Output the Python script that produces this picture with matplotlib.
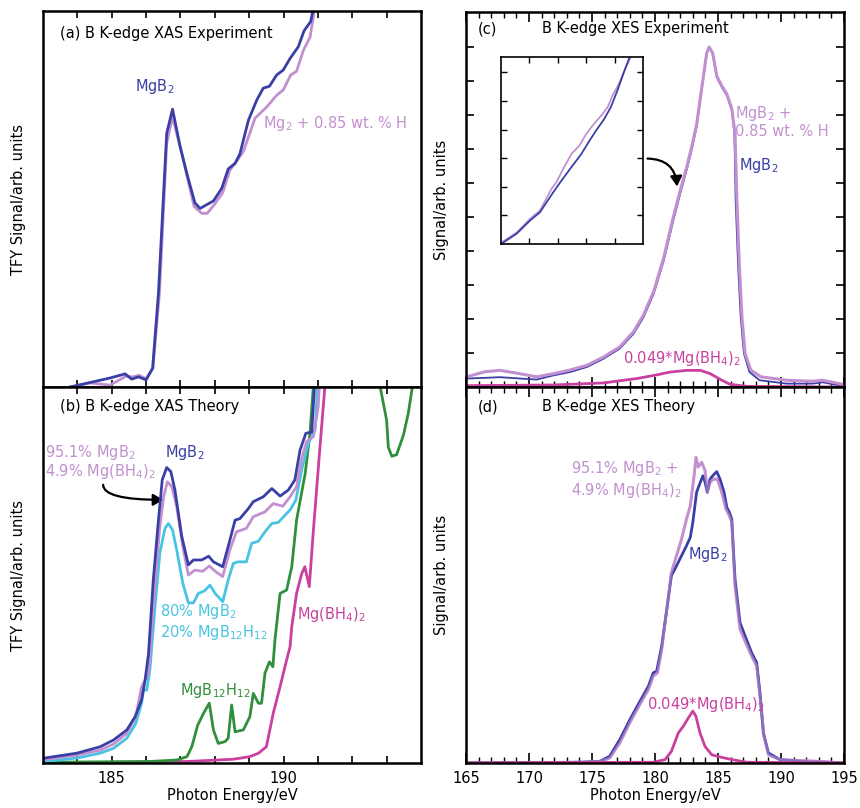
import numpy as np
import matplotlib
matplotlib.use("Agg")
import matplotlib.pyplot as plt
from matplotlib.patches import FancyArrowPatch

# colores de las curvas
C_BLUE = "#3a3fa6"
C_LILAC = "#c290d0"
C_CYAN = "#48c4e2"
C_GREEN = "#2f8f3c"
C_MAGENTA = "#c9409f"

# ---------------- (a) XAS experimento ----------------
xas_exp_e_mgb2 = [183.79, 184.95, 185.39, 185.58, 185.78, 186.0, 186.19, 186.36, 186.6, 186.77,
                  186.99, 187.21, 187.42, 187.57, 187.96, 188.2, 188.39, 188.59, 188.73, 188.98,
                  189.22, 189.41, 189.59, 189.8, 189.99, 190.19, 190.43, 190.6, 190.79, 190.92]
xas_exp_mgb2 = [0.0, 0.024, 0.035, 0.021, 0.027, 0.019, 0.05, 0.25, 0.675, 0.739,
                0.64, 0.56, 0.49, 0.475, 0.495, 0.528, 0.58, 0.595, 0.62, 0.71,
                0.763, 0.795, 0.80, 0.83, 0.843, 0.874, 0.905, 0.948, 0.972, 1.03]
xas_exp_e_mgb2h = [183.79, 184.37, 184.95, 185.42, 185.6, 185.8, 186.0, 186.2, 186.39, 186.6,
                   186.77, 187.04, 187.4, 187.62, 187.78, 188.0, 188.23, 188.44, 188.63, 188.83,
                   189.17, 189.51, 189.8, 189.99, 190.21, 190.38, 190.58, 190.77, 190.95]
xas_exp_mgb2h = [0.0, 0.011, 0.005, 0.029, 0.027, 0.031, 0.022, 0.05, 0.25, 0.648,
                 0.719, 0.62, 0.48, 0.462, 0.462, 0.487, 0.517, 0.577, 0.60, 0.626,
                 0.715, 0.745, 0.776, 0.79, 0.83, 0.84, 0.896, 0.93, 1.03]

# ---------------- (b) XAS teoria ----------------
xas_th_e_mgb2 = [183.0, 183.98, 184.66, 185.05, 185.44, 185.68, 185.87, 185.97, 186.07, 186.21,
                 186.36, 186.47, 186.6, 186.72, 186.84, 187.04, 187.23, 187.38, 187.62, 187.82,
                 187.96, 188.23, 188.44, 188.59, 188.73, 188.98, 189.12, 189.41, 189.66, 189.9,
                 190.14, 190.33, 190.48, 190.65, 190.82, 190.92]
xas_th_mgb2 = [0.0125, 0.026, 0.043, 0.061, 0.088, 0.123, 0.168, 0.22, 0.29, 0.487,
               0.646, 0.753, 0.786, 0.775, 0.726, 0.602, 0.527, 0.54, 0.54, 0.55,
               0.535, 0.522, 0.593, 0.646, 0.65, 0.677, 0.695, 0.708, 0.73, 0.71,
               0.726, 0.753, 0.832, 0.877, 0.88, 1.03]
xas_th_e_mix = [183.0, 183.98, 184.66, 185.05, 185.44, 185.7, 185.87, 185.97, 186.07, 186.23,
                186.39, 186.51, 186.62, 186.75, 186.89, 187.07, 187.23, 187.42, 187.65, 187.84,
                188.01, 188.23, 188.44, 188.63, 188.92, 189.12, 189.46, 189.7, 189.98, 190.19,
                190.38, 190.53, 190.67, 190.87, 191.01, 191.06]
xas_th_mix = [0.008, 0.021, 0.034, 0.05, 0.079, 0.123, 0.203, 0.22, 0.238, 0.442,
              0.62, 0.708, 0.748, 0.735, 0.682, 0.575, 0.50, 0.513, 0.51, 0.524,
              0.51, 0.496, 0.567, 0.615, 0.624, 0.655, 0.668, 0.69, 0.683, 0.708,
              0.735, 0.81, 0.855, 0.868, 0.948, 1.03]
xas_th_e_mix20 = [183.0, 183.98, 184.66, 185.05, 185.44, 185.7, 185.87, 185.92, 186.02, 186.11,
                  186.26, 186.4, 186.55, 186.65, 186.77, 186.89, 187.07, 187.23, 187.38, 187.52,
                  187.7, 187.86, 188.01, 188.23, 188.39, 188.54, 188.68, 188.92, 189.07, 189.27,
                  189.46, 189.66, 189.85, 189.95, 190.19, 190.36, 190.53, 190.72, 190.92, 191.0]
xas_th_mix20 = [0.004, 0.013, 0.026, 0.039, 0.066, 0.105, 0.159, 0.194, 0.194, 0.247,
                0.416, 0.558, 0.624, 0.637, 0.62, 0.567, 0.478, 0.426, 0.426, 0.451,
                0.458, 0.473, 0.451, 0.429, 0.487, 0.531, 0.535, 0.535, 0.584, 0.59,
                0.615, 0.637, 0.64, 0.65, 0.673, 0.70, 0.78, 0.85, 0.886, 1.03]
xas_th_e_b12 = [183.0, 186.1, 186.9, 187.19, 187.33, 187.5, 187.67, 187.84, 187.96, 188.1,
                188.3, 188.39, 188.49, 188.59, 188.83, 189.02, 189.12, 189.27, 189.36, 189.46,
                189.59, 189.69, 189.75, 189.9, 190.09, 190.24, 190.38, 190.63, 190.77, 190.89,
                np.nan, 192.75, 193.0, 193.05, 193.15, 193.29, 193.49, 193.63, 193.8]
xas_th_b12 = [0.002, 0.004, 0.008, 0.017, 0.043, 0.10, 0.132, 0.159, 0.088, 0.052,
              0.057, 0.066, 0.154, 0.083, 0.088, 0.123, 0.185, 0.159, 0.159, 0.239,
              0.269, 0.256, 0.327, 0.451, 0.46, 0.522, 0.646, 0.77, 0.877, 1.03,
              np.nan, 1.03, 0.912, 0.84, 0.816, 0.82, 0.872, 0.93, 1.03]
xas_th_e_bh4 = [183.0, 187.2, 188.54, 189.02, 189.27, 189.5, 189.7, 189.9, 190.09, 190.19,
                190.24, 190.38, 190.53, 190.62, 190.75, 190.87, 191.06, 191.23]
xas_th_bh4 = [0.0, 0.004, 0.01, 0.017, 0.026, 0.043, 0.132, 0.203, 0.274, 0.309,
              0.363, 0.451, 0.504, 0.522, 0.469, 0.62, 0.84, 1.03]

# ---------------- (c) XES experimento ----------------
xes_exp_e_mgb2 = [165.05, 166.5, 167.7, 169.3, 170.6, 171.9, 173.25, 174.6, 175.9, 177.2,
                  178.3, 179.1, 179.9, 180.7, 181.45, 182.0, 182.5, 182.9, 183.3, 183.7,
                  184.1, 184.3, 184.58, 184.9, 185.3, 185.7, 186.1, 186.3, 186.4, 186.6,
                  186.8, 187.06, 187.5, 188.3, 190.45, 192.5, 193.3, 194.9]
xes_exp_mgb2 = [0.025, 0.027, 0.029, 0.025, 0.022, 0.034, 0.044, 0.059, 0.083, 0.113,
                0.157, 0.206, 0.275, 0.373, 0.49, 0.569, 0.637, 0.696, 0.765, 0.873,
                0.98, 1.0, 0.98, 0.912, 0.882, 0.858, 0.814, 0.745, 0.549, 0.353,
                0.206, 0.098, 0.044, 0.02, 0.01, 0.01, 0.014, 0.003]
xes_exp_e_mgb2h = [165.05, 166.5, 167.7, 169.3, 170.6, 171.9, 173.25, 174.6, 175.9, 177.2,
                   178.3, 179.1, 179.9, 180.7, 181.45, 182.0, 182.5, 182.9, 183.3, 183.7,
                   184.1, 184.3, 184.58, 184.9, 185.3, 185.7, 186.1, 186.35, 186.5, 186.7,
                   186.9, 187.15, 187.6, 188.4, 190.45, 192.5, 193.3, 194.9]
xes_exp_mgb2h = [0.03, 0.045, 0.049, 0.039, 0.03, 0.039, 0.05, 0.064, 0.088, 0.118,
                 0.163, 0.213, 0.282, 0.382, 0.50, 0.578, 0.645, 0.705, 0.772, 0.878,
                 0.982, 1.0, 0.982, 0.915, 0.886, 0.862, 0.818, 0.745, 0.549, 0.353,
                 0.206, 0.098, 0.05, 0.03, 0.02, 0.017, 0.02, 0.008]
xes_exp_e_bh4 = [165.0, 171.9, 175.9, 178.55, 179.9, 181.2, 182.5, 183.6, 184.4, 185.2,
                 185.95, 187.3, 195.0]
xes_exp_bh4 = [0.004, 0.006, 0.012, 0.025, 0.034, 0.044, 0.049, 0.049, 0.039, 0.022,
               0.008, 0.002, 0.0]

# recuadro (unidades propias del recuadro)
inset_x_mgb2h = [0.03, 0.56, 1.02, 1.37, 1.78, 1.95, 2.19, 2.48, 2.77, 3.0,
                 3.23, 3.58, 3.76, 3.93, 4.16, 4.4, 4.57]
inset_mgb2h = [0.06, 0.41, 0.88, 1.17, 1.93, 2.16, 2.63, 3.15, 3.45, 3.85,
               4.15, 4.55, 4.79, 5.2, 5.61, 6.19, 6.54]
inset_x_mgb2 = [0.03, 0.56, 1.02, 1.37, 1.84, 2.13, 2.48, 2.83, 3.12, 3.35,
                3.64, 3.87, 4.1, 4.33, 4.51]
inset_mgb2 = [0.02, 0.37, 0.82, 1.11, 1.81, 2.22, 2.69, 3.15, 3.62, 3.97,
              4.38, 4.79, 5.37, 6.01, 6.48]

# ---------------- (d) XES teoria ----------------
xes_th_e_mgb2 = [165.0, 174.05, 175.6, 176.4, 177.2, 178.0, 178.8, 179.47, 179.86, 180.13,
                 180.53, 180.9, 181.3, 181.7, 182.1, 182.5, 182.8, 183.0, 183.3, 183.6,
                 183.8, 183.97, 184.15, 184.37, 184.58, 184.9, 185.16, 185.48, 185.7, 185.9,
                 186.09, 186.35, 186.75, 187.15, 187.67, 188.07, 188.33, 188.6, 189.0, 189.9,
                 191.8, 195.0]
xes_th_mgb2 = [0.0, 0.002, 0.004, 0.018, 0.062, 0.115, 0.164, 0.204, 0.24, 0.244,
               0.311, 0.40, 0.498, 0.524, 0.551, 0.578, 0.60, 0.64, 0.72, 0.747,
               0.764, 0.747, 0.72, 0.755, 0.764, 0.775, 0.755, 0.72, 0.68, 0.667,
               0.649, 0.489, 0.373, 0.338, 0.293, 0.267, 0.187, 0.08, 0.027, 0.009,
               0.004, 0.0]
xes_th_e_mix = [165.0, 174.05, 175.6, 176.4, 177.2, 178.0, 178.8, 179.47, 179.86, 180.2,
                180.53, 180.9, 181.3, 181.7, 182.1, 182.5, 182.8, 183.1, 183.25, 183.43,
                183.7, 183.97, 184.15, 184.37, 184.63, 184.95, 185.3, 185.63, 185.9, 186.09,
                186.35, 186.75, 187.15, 187.67, 188.07, 188.33, 188.65, 189.0, 189.9, 193.2,
                195.0]
xes_th_mix = [0.0, 0.002, 0.004, 0.013, 0.053, 0.107, 0.156, 0.195, 0.231, 0.24,
              0.302, 0.40, 0.507, 0.551, 0.595, 0.649, 0.684, 0.764, 0.813, 0.787,
              0.80, 0.778, 0.72, 0.747, 0.755, 0.755, 0.72, 0.675, 0.658, 0.64,
              0.471, 0.355, 0.324, 0.284, 0.258, 0.178, 0.071, 0.022, 0.009, 0.004,
              0.0]
xes_th_e_bh4 = [165.0, 179.86, 180.8, 181.3, 181.85, 182.25, 182.65, 183.0, 183.25, 183.57,
                183.97, 184.5, 185.16, 186.1, 187.3, 195.0]
xes_th_bh4 = [0.0, 0.002, 0.009, 0.031, 0.08, 0.098, 0.12, 0.138, 0.124, 0.08,
              0.044, 0.022, 0.016, 0.009, 0.002, 0.0]

FS = 10.5
plt.rcParams["font.family"] = ["DejaVu Sans"]
plt.rcParams["font.size"] = FS

fig = plt.figure(figsize=(8.6, 8.08), dpi=100)
ax_a = fig.add_axes([0.05, 0.521, 0.4395, 0.4653])
ax_b = fig.add_axes([0.05, 0.0557, 0.4395, 0.4653])
ax_c = fig.add_axes([0.5419, 0.521, 0.4395, 0.4641])
ax_d = fig.add_axes([0.5419, 0.0557, 0.4395, 0.4653])

for ax in (ax_a, ax_b, ax_c, ax_d):
    for sp in ax.spines.values():
        sp.set_linewidth(1.8)

# ejes izquierdos
for ax in (ax_a, ax_b):
    ax.set_xlim(183, 194)
    ax.set_ylim(0, 1.0)
    ax.set_xticks(range(184, 194))
    ax.set_yticks([])
    ax.tick_params(axis="x", direction="in", top=True, bottom=True, length=5, width=1.2,
                   pad=6, labelsize=FS)
    ax.set_ylabel("TFY Signal/arb. units", fontsize=FS)
    ax.yaxis.set_label_coords(-0.045, 0.5)
ax_a.set_xticklabels([])
ax_b.set_xticklabels(["185" if t == 185 else ("190" if t == 190 else "") for t in range(184, 194)])
ax_b.set_xlabel("Photon Energy/eV", fontsize=FS)
ax_b.xaxis.set_label_coords(0.5, -0.066)

# ejes derechos
for ax in (ax_c, ax_d):
    ax.set_xlim(165, 195)
    ax.set_xticks(range(165, 196, 5))
    ax.set_xticks(range(165, 196), minor=True)
    ax.tick_params(axis="x", which="major", direction="in", top=True, bottom=True, length=7,
                   width=1.2, pad=6, labelsize=FS)
    ax.tick_params(axis="x", which="minor", direction="in", top=True, bottom=True, length=4, width=1.0)
    ax.set_ylabel("Signal/arb. units", fontsize=FS)
    ax.yaxis.set_label_coords(-0.045, 0.5)
ax_c.set_ylim(0, 1.103)
ax_c.set_yticks(np.arange(0.1, 1.05, 0.1))
ax_c.tick_params(axis="y", direction="in", left=True, right=True, length=6, width=1.2, labelleft=False)
ax_c.set_xticklabels([])
ax_d.set_ylim(0, 1.0)
ax_d.set_yticks([])
ax_d.set_xlabel("Photon Energy/eV", fontsize=FS)
ax_d.xaxis.set_label_coords(0.5, -0.066)

# (a)
ax_a.plot(xas_exp_e_mgb2h, xas_exp_mgb2h, color=C_LILAC, lw=2.0)
ax_a.plot(xas_exp_e_mgb2, xas_exp_mgb2, color=C_BLUE, lw=2.0)
ax_a.text(0.045, 0.94, "(a) B K-edge XAS Experiment", transform=ax_a.transAxes, va="center")
ax_a.text(186.26, 0.80, "MgB$_2$", color=C_BLUE, ha="center", va="center")
ax_a.text(189.4, 0.70, "Mg$_2$ + 0.85 wt. % H", color=C_LILAC, va="center")

# (b)
ax_b.plot(xas_th_e_bh4, xas_th_bh4, color=C_MAGENTA, lw=2.0)
ax_b.plot(xas_th_e_b12, xas_th_b12, color=C_GREEN, lw=2.0)
ax_b.plot(xas_th_e_mix20, xas_th_mix20, color=C_CYAN, lw=2.0)
ax_b.plot(xas_th_e_mix, xas_th_mix, color=C_LILAC, lw=2.0)
ax_b.plot(xas_th_e_mgb2, xas_th_mgb2, color=C_BLUE, lw=2.0)
ax_b.text(0.045, 0.947, "(b) B K-edge XAS Theory", transform=ax_b.transAxes, va="center")
ax_b.text(183.06, 0.827, "95.1% MgB$_2$", color=C_LILAC, va="center")
ax_b.text(183.06, 0.775, "4.9% Mg(BH$_4$)$_2$", color=C_LILAC, va="center")
ax_b.text(187.13, 0.827, "MgB$_2$", color=C_BLUE, ha="center", va="center")
ax_b.text(186.4, 0.402, "80% MgB$_2$", color=C_CYAN, va="center")
ax_b.text(186.4, 0.348, "20% MgB$_{12}$H$_{12}$", color=C_CYAN, va="center")
ax_b.text(186.99, 0.194, "MgB$_{12}$H$_{12}$", color=C_GREEN, va="center")
ax_b.text(190.39, 0.396, "Mg(BH$_4$)$_2$", color=C_MAGENTA, va="center")
ax_b.add_patch(FancyArrowPatch((184.75, 0.74), (186.5, 0.70),
                               connectionstyle="angle3,angleA=-90,angleB=0",
                               arrowstyle="-|>,head_length=6,head_width=3.5",
                               color="black", lw=1.6, shrinkA=0, shrinkB=0))

# (c)
ax_c.plot(xes_exp_e_mgb2, xes_exp_mgb2, color=C_BLUE, lw=1.3)
ax_c.plot(xes_exp_e_mgb2h, xes_exp_mgb2h, color=C_LILAC, lw=2.2)
ax_c.plot(xes_exp_e_bh4, xes_exp_bh4, color=C_MAGENTA, lw=2.0)
ax_c.text(0.032, 0.955, "(c)", transform=ax_c.transAxes, va="center")
ax_c.text(0.201, 0.955, "B K-edge XES Experiment", transform=ax_c.transAxes, va="center")
ax_c.text(186.35, 0.805, "MgB$_2$ +", color=C_LILAC, va="center")
ax_c.text(186.35, 0.752, "0.85 wt. % H", color=C_LILAC, va="center")
ax_c.text(186.67, 0.652, "MgB$_2$", color=C_BLUE, va="center")
ax_c.text(177.46, 0.084, "0.049*Mg(BH$_4$)$_2$", color=C_MAGENTA, va="center")
ax_c.add_patch(FancyArrowPatch((179.4, 0.672), (181.75, 0.59),
                               connectionstyle="arc3,rad=-0.45",
                               arrowstyle="-|>,head_length=6,head_width=3.5",
                               color="black", lw=1.6, shrinkA=0, shrinkB=0))

ax_in = fig.add_axes([0.5826, 0.698, 0.165, 0.2314])
ax_in.plot(inset_x_mgb2h, inset_mgb2h, color=C_LILAC, lw=1.3)
ax_in.plot(inset_x_mgb2, inset_mgb2, color=C_BLUE, lw=1.3)
ax_in.set_xlim(0, 5)
ax_in.set_ylim(0, 6.54)
ax_in.set_xticks([1, 2, 3, 4])
ax_in.set_yticks([1, 2, 3, 4, 5, 6])
ax_in.tick_params(direction="in", top=True, right=True, length=4, width=1.0,
                  labelbottom=False, labelleft=False)
for sp in ax_in.spines.values():
    sp.set_linewidth(1.2)

# (d)
ax_d.plot(xes_th_e_mix, xes_th_mix, color=C_LILAC, lw=2.0)
ax_d.plot(xes_th_e_mgb2, xes_th_mgb2, color=C_BLUE, lw=2.0)
ax_d.plot(xes_th_e_mix, xes_th_mix, color=C_LILAC, lw=2.0, alpha=0.6)
ax_d.plot(xes_th_e_bh4, xes_th_bh4, color=C_MAGENTA, lw=2.0)
ax_d.text(0.032, 0.947, "(d)", transform=ax_d.transAxes, va="center")
ax_d.text(0.201, 0.947, "B K-edge XES Theory", transform=ax_d.transAxes, va="center")
ax_d.text(173.33, 0.782, "95.1% MgB$_2$ +", color=C_LILAC, va="center")
ax_d.text(173.33, 0.726, "4.9% Mg(BH$_4$)$_2$", color=C_LILAC, va="center")
ax_d.text(182.62, 0.555, "MgB$_2$", color=C_BLUE, va="center")
ax_d.text(179.37, 0.155, "0.049*Mg(BH$_4$)$_2$", color=C_MAGENTA, va="center")

fig.savefig("out.png", dpi=100)
